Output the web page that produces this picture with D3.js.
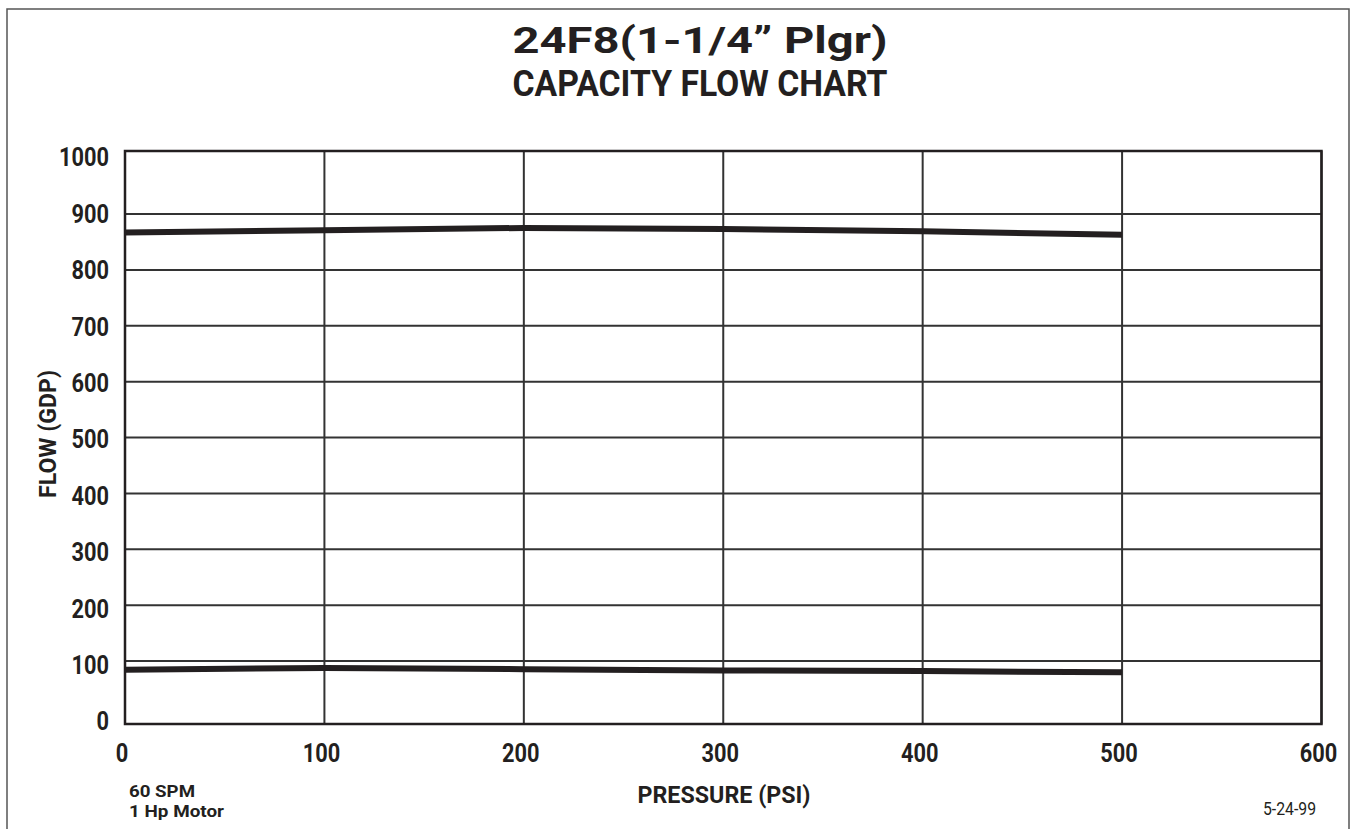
<!DOCTYPE html>
<html>
<head>
<meta charset="utf-8">
<script src="https://cdn.jsdelivr.net/npm/d3@7"></script>
<style>
  html, body { margin: 0; padding: 0; background: #fff; }
  svg { display: block; }
  text { font-family: Roboto, "Liberation Sans", Arial, sans-serif; fill: #231f20; }
</style>
</head>
<body>
<svg id="chart" width="1356" height="829"></svg>
<script>
// ---- data ----
const titleLines = ["24F8(1-1/4\u201d Plgr)", "CAPACITY FLOW CHART"];
const xTicks = [0, 100, 200, 300, 400, 500, 600];
const yTicks = [0, 100, 200, 300, 400, 500, 600, 700, 800, 900, 1000];
const pressure = [0, 100, 200, 300, 400, 500];
const flowUpper = [867, 871, 875, 873, 869, 863];
const flowLower = [86, 89, 87, 85, 84, 82];
const xTitle = "PRESSURE (PSI)";
const yTitle = "FLOW (GDP)";
const noteLines = ["60 SPM", "1 Hp Motor"];
const dateNote = "5-24-99";

// ---- layout ----
const svg = d3.select("#chart");
const ink = "#231f20";

// condensed look: fit text to the widths of the original narrow typeface
function fit(sel, w) {
  sel.attr("textLength", w).attr("lengthAdjust", "spacingAndGlyphs");
}

// outer page frame
svg.append("rect")
  .attr("x", 7).attr("y", 9).attr("width", 1342).attr("height", 840)
  .attr("fill", "none").attr("stroke", "#555").attr("stroke-width", 1.5);

const x = d3.scaleLinear().domain([0, 600]).range([125, 1321.5]);
// grid spacing in the original is slightly wider in the first and last bands
const y = d3.scaleLinear().domain([0, 100, 900, 1000]).range([724, 661, 214, 151]);
// tick labels sit on an even spacing
const yLab = d3.scaleLinear().domain([0, 1000]).range([721, 157]);

// title
svg.append("g").selectAll("text").data(titleLines).join("text")
  .attr("x", 700).attr("y", (d, i) => 53 + i * 43)
  .attr("text-anchor", "middle")
  .attr("font-size", 37).attr("font-weight", "bold")
  .call(fit, 375)
  .text(d => d);

// grid
const grid = svg.append("g").attr("stroke", "#333").attr("stroke-width", 2);
grid.selectAll("line.h").data(yTicks).join("line").attr("class", "h")
  .attr("x1", x(0)).attr("x2", x(600))
  .attr("y1", d => y(d)).attr("y2", d => y(d));
grid.selectAll("line.v").data(xTicks).join("line").attr("class", "v")
  .attr("y1", y(0)).attr("y2", y(1000))
  .attr("x1", d => x(d)).attr("x2", d => x(d));
svg.append("rect")
  .attr("x", x(0)).attr("y", y(1000))
  .attr("width", x(600) - x(0)).attr("height", y(0) - y(1000))
  .attr("fill", "none").attr("stroke", ink).attr("stroke-width", 2.5);

// data lines
const line = d3.line().x((d, i) => x(pressure[i])).y(d => y(d));
[flowUpper, flowLower].forEach(s => {
  svg.append("path").datum(s)
    .attr("d", line)
    .attr("fill", "none").attr("stroke", ink)
    .attr("stroke-width", 6).attr("stroke-linejoin", "round").attr("stroke-linecap", "butt");
});

// y tick labels
svg.append("g").selectAll("text").data(yTicks).join("text")
  .attr("x", 109).attr("y", d => yLab(d))
  .attr("dy", "0.36em")
  .attr("text-anchor", "end")
  .attr("font-size", 26).attr("font-weight", "bold")
  .attr("textLength", d => String(d).length * 12.5)
  .attr("lengthAdjust", "spacingAndGlyphs")
  .text(d => d);

// x tick labels
svg.append("g").selectAll("text").data(xTicks).join("text")
  .attr("x", d => x(d) - 3).attr("y", 762)
  .attr("text-anchor", "middle")
  .attr("font-size", 26).attr("font-weight", "bold")
  .attr("textLength", d => String(d).length * 12.5)
  .attr("lengthAdjust", "spacingAndGlyphs")
  .text(d => d);

// axis titles
svg.append("text")
  .attr("transform", "translate(56,434) rotate(-90)")
  .attr("text-anchor", "middle")
  .attr("font-size", 24).attr("font-weight", "bold")
  .call(fit, 128)
  .text(yTitle);
svg.append("text")
  .attr("x", 724).attr("y", 803)
  .attr("text-anchor", "middle")
  .attr("font-size", 24).attr("font-weight", "bold")
  .call(fit, 173)
  .text(xTitle);

// notes
const noteW = [66, 95];
svg.append("g").selectAll("text").data(noteLines).join("text")
  .attr("x", 129).attr("y", (d, i) => 797 + i * 20)
  .attr("font-size", 17).attr("font-weight", "bold")
  .attr("textLength", (d, i) => noteW[i])
  .attr("lengthAdjust", "spacingAndGlyphs")
  .text(d => d);
svg.append("text")
  .attr("x", 1316).attr("y", 815)
  .attr("text-anchor", "end")
  .attr("font-size", 18)
  .call(fit, 53)
  .text(dateNote);
</script>
</body>
</html>
